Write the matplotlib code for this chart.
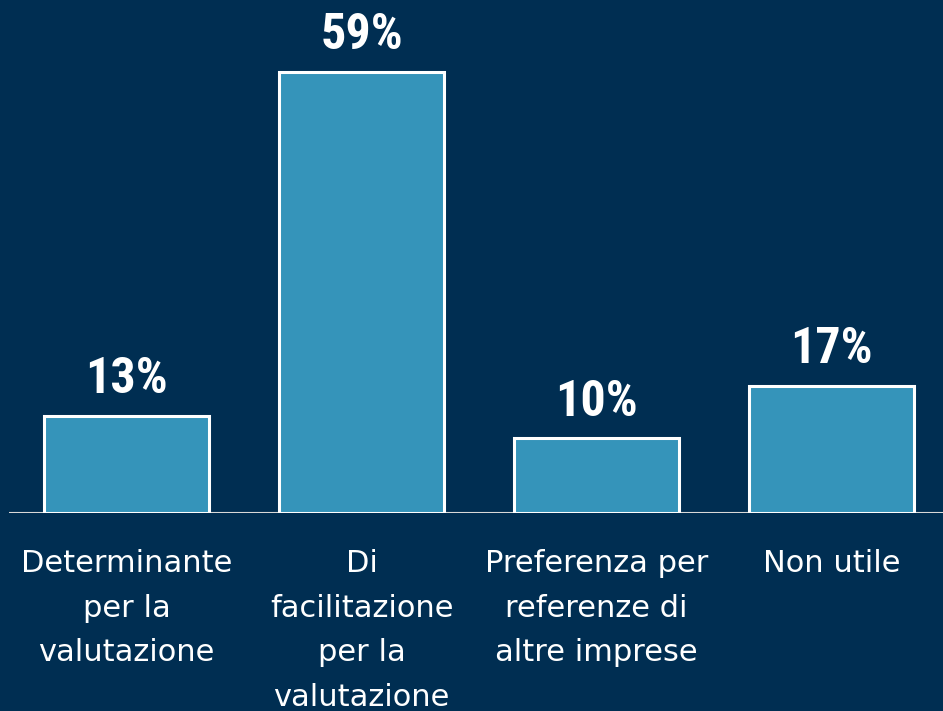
import matplotlib
matplotlib.use("Agg")
import matplotlib.pyplot as plt
from matplotlib import font_manager

categories = ["Determinante\nper la\nvalutazione",
              "Di\nfacilitazione\nper la\nvalutazione",
              "Preferenza per\nreferenze di\naltre imprese",
              "Non utile"]
values = [13, 59, 10, 17]
value_labels = ["13%", "59%", "10%", "17%"]

BG = "#002E52"
BAR = "#3594BA"

names = {f.name for f in font_manager.fontManager.ttflist}
num_font = "Roboto"
for cand in ["Roboto Condensed", "Liberation Sans Narrow", "Arial Narrow"]:
    if cand in names:
        num_font = cand
        break
lab_font = "DejaVu Sans"

fig = plt.figure(figsize=(9.43, 7.11), dpi=100, facecolor=BG)
ax = fig.add_axes([9/943, 1 - 513/711, 940/943, 513/711])
ax.set_facecolor(BG)
x = list(range(len(categories)))
ax.bar(x, values, width=0.70, color=BAR, edgecolor="white", linewidth=2.2, zorder=3)
ax.set_xlim(-0.5, 3.5)
ax.set_ylim(0, 513/7.475)
for s in ax.spines.values():
    s.set_visible(False)
ax.axhline(0, color="#D9D9D9", linewidth=1.5, zorder=2)
ax.set_yticks([])
ax.set_xticks(x)
ax.set_xticklabels(categories, fontsize=22, color="white", family=lab_font,
                   linespacing=1.68, va="top")
ax.tick_params(axis="x", length=0, pad=26)
for xi, v, t in zip(x, values, value_labels):
    ax.annotate(t, (xi, v), xytext=(0, 9), textcoords="offset points",
                ha="center", va="bottom", fontsize=36, fontweight="bold",
                color="white", family=num_font)
fig.savefig("out.png", dpi=100, facecolor=BG)
